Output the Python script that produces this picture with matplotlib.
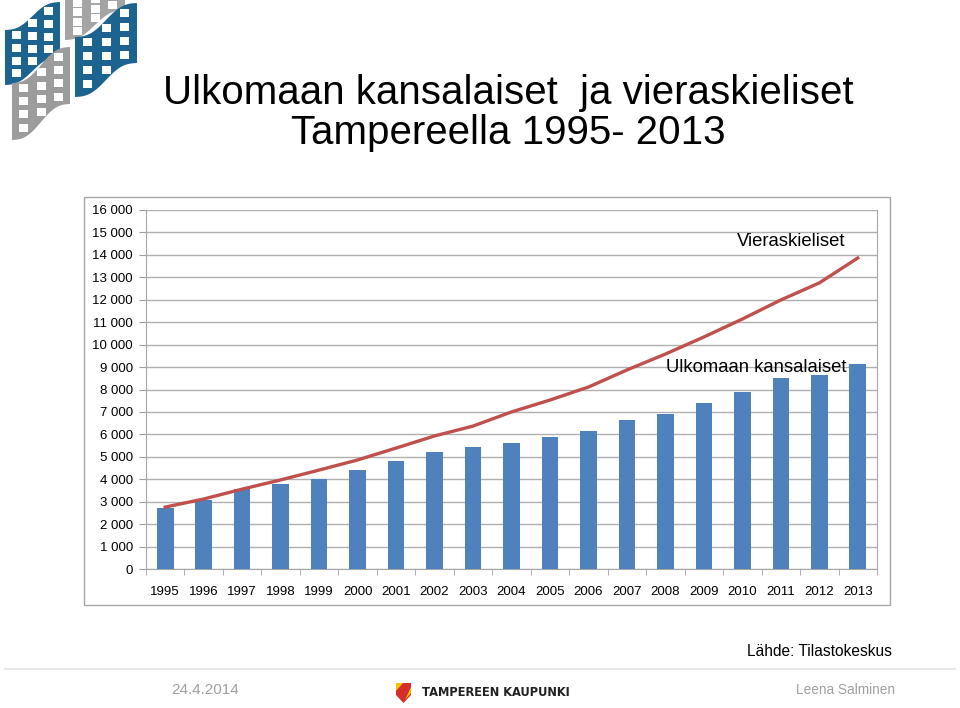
import numpy as np
from matplotlib import pyplot as plt
from matplotlib.patches import Polygon, Rectangle

plt.rcParams['font.family'] = ['Liberation Sans', 'DejaVu Sans']

years = [str(y) for y in range(1995, 2014)]
kansalaiset = [2720, 3070, 3560, 3790, 4010, 4410, 4810, 5210, 5440, 5610,
               5880, 6150, 6640, 6910, 7400, 7890, 8510, 8650, 9140]
vieraskieliset = [2760, 3120, 3560, 3970, 4410, 4860, 5390, 5930, 6370, 7000,
                  7530, 8110, 8870, 9580, 10340, 11140, 11990, 12750, 13860]
y_ticks = list(range(0, 16001, 1000))
y_labels = ['0' if v == 0 else f'{v // 1000} 000' for v in y_ticks]

fig = plt.figure(figsize=(9.6, 7.08), dpi=100)

# decoration layer in pixel coordinates
deco = fig.add_axes([0, 0, 1, 1])
deco.set_xlim(0, 960)
deco.set_ylim(708, 0)
deco.axis('off')


def wave(t):
    # smooth S-shaped rise used for the logo flags
    return t - np.sin(2 * np.pi * t) / (2 * np.pi) * 0.9


def flag(x0, x1, ytop_l, ytop_r, h, color):
    t = np.linspace(0, 1, 40)
    xs = x0 + (x1 - x0) * t
    top = ytop_l + (ytop_r - ytop_l) * wave(t)
    pts = list(zip(xs, top)) + list(zip(xs[::-1], (top + h)[::-1]))
    deco.add_patch(Polygon(pts, closed=True, color=color, lw=0))
    # windows
    for c in range(3):
        tc = (c + 0.7) / 3.4
        xc = x0 + (x1 - x0) * tc
        yc0 = ytop_l + (ytop_r - ytop_l) * wave(tc)
        for r in range(4):
            yc = yc0 + h * (r + 0.55) / 4.3
            deco.add_patch(Rectangle((xc - 4.5, yc - 4), 9, 8, color='white', lw=0))


flag(65, 125, 0, -30, 40, '#a4a4a4')
flag(5, 60, 30, 2, 55, '#1d6390')
flag(75, 137, 37, 3, 60, '#1d6390')
flag(12, 70, 83, 47, 57, '#9c9c9c')

# chart border
deco.add_patch(Rectangle((84, 197), 806, 408, fill=False, ec='#a6a6a6', lw=1))

# footer
deco.plot([5, 955], [669, 669], color='#e4e4e4', lw=1.2)
deco.add_patch(Polygon([(396, 683), (411, 683), (411, 695), (403.5, 703), (396, 695)],
                       closed=True, color='#d62f2a', lw=0))
deco.add_patch(Polygon([(396, 683), (403, 683), (396, 691)], closed=True, color='#f5c400', lw=0))
deco.add_patch(Polygon([(411, 693), (411, 687), (405, 700)], closed=True, color='#f5c400', lw=0))
deco.text(422, 692, 'TAMPEREEN KAUPUNKI', fontsize=8.3, fontweight='bold',
          color='#222222', ha='left', va='center', family='DejaVu Sans')
deco.text(171, 690, '24.4.2014', fontsize=11, color='#a0a0a0', ha='left', va='center')
deco.text(895, 690, 'Leena Salminen', fontsize=9.8, color='#a0a0a0', ha='right', va='center')
deco.text(892, 652, 'Lähde: Tilastokeskus', fontsize=11.2, color='black', ha='right', va='center')

# title
fig.text(508 / 960, 1 - 93 / 708, 'Ulkomaan kansalaiset  ja vieraskieliset', fontsize=29,
         ha='center', va='center')
fig.text(508 / 960, 1 - 133 / 708, 'Tampereella 1995- 2013', fontsize=29,
         ha='center', va='center')

ax = fig.add_axes([146 / 960, 1 - 569 / 708, 731 / 960, 359 / 708])
x = np.arange(len(years))
ax.bar(x, kansalaiset, width=0.43, color='#4f81bd', zorder=3)
ax.plot(x, vieraskieliset, color='#c0504d', lw=2.4, zorder=4)

ax.set_xlim(-0.5, len(years) - 0.5)
ax.set_ylim(0, 16000)
ax.set_yticks(y_ticks)
ax.set_yticklabels(y_labels, fontsize=9.5)
ax.set_xticks(x)
ax.set_xticklabels(years, fontsize=9.5)
ax.set_xticks(np.arange(-0.5, len(years)), minor=True)
ax.tick_params(axis='x', which='major', length=0, pad=12)
ax.tick_params(axis='x', which='minor', length=4, color='#a0a0a0')
ax.tick_params(axis='y', length=5, color='#a0a0a0', pad=4.5)
ax.grid(axis='y', color='#b0b0b0', lw=1, zorder=0)
for s in ['top']:
    ax.spines[s].set_visible(False)
for s in ['left', 'bottom', 'right']:
    ax.spines[s].set_color('#a6a6a6')

ax.text(845 / 960, 1 - 241 / 708, 'Vieraskieliset', transform=fig.transFigure,
        fontsize=13.3, ha='right', va='center')
ax.text(847 / 960, 1 - 368 / 708, 'Ulkomaan kansalaiset', transform=fig.transFigure,
        fontsize=13.3, ha='right', va='center', zorder=5)

fig.savefig('out.png', dpi=100)
